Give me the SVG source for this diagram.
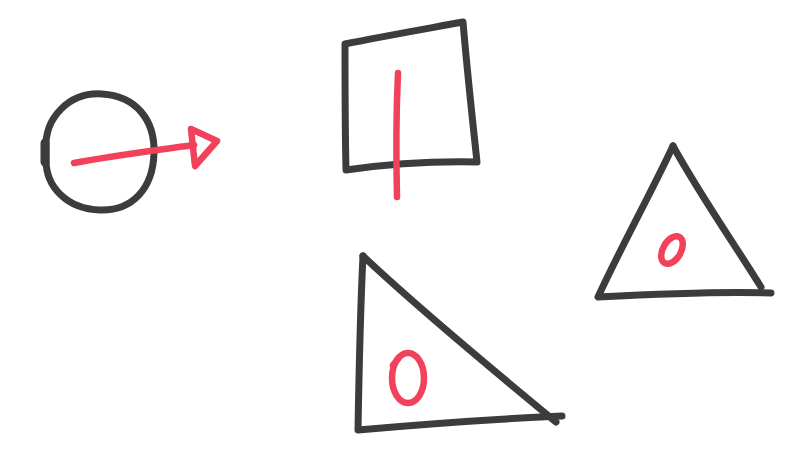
<svg xmlns="http://www.w3.org/2000/svg" width="812" height="474" viewBox="0 0 812 474">
<style>
.ink{fill:none;stroke:#3b3d3c;stroke-width:7;stroke-linecap:round;stroke-linejoin:round}
.red{fill:none;stroke:#f2415a;stroke-width:6.5;stroke-linecap:round;stroke-linejoin:round}
</style>
<rect width="812" height="474" fill="#ffffff"/>
<g id="circle">
<path class="ink" d="M46,150 C44,117 70,92 102,94 C136,96 155,120 154,153 C153,189 132,211 100,210 C67,209 46,187 46,160 Z"/>
<path d="M45,143 L45,162" stroke="#3b3d3c" stroke-width="9" stroke-linecap="round"/>
<path class="red" d="M74,163 C110,156 150,151 194,145"/>
<path class="red" d="M191,129 L217,141 L195,166 Z"/>
</g>
<g id="square">
<path class="ink" d="M345,44 C385,36 425,29 463,22 C467,70 472,115 477,162 C432,161 388,164 346,170 C345,128 345,86 345,44 Z"/>
<path class="red" d="M398,73 C396,115 396,155 397,197"/>
</g>
<g id="triangle-bottom">
<path class="ink" d="M363,256 C360,315 359,372 358,430 C425,424 495,419 562,416"/>
<path class="ink" d="M363,256 C420,310 505,380 556,422"/>
<ellipse class="red" cx="408" cy="378" rx="16" ry="25"/>
<path class="red" d="M393,365 L398,359"/>
</g>
<g id="triangle-right">
<path class="ink" d="M673,146 C650,195 622,245 598,297 C655,294 715,291 771,293"/>
<path class="ink" d="M673,146 C700,195 735,245 761,287"/>
<ellipse class="red" cx="672" cy="250" rx="9" ry="15" transform="rotate(30 672 250)"/>
</g>
</svg>
